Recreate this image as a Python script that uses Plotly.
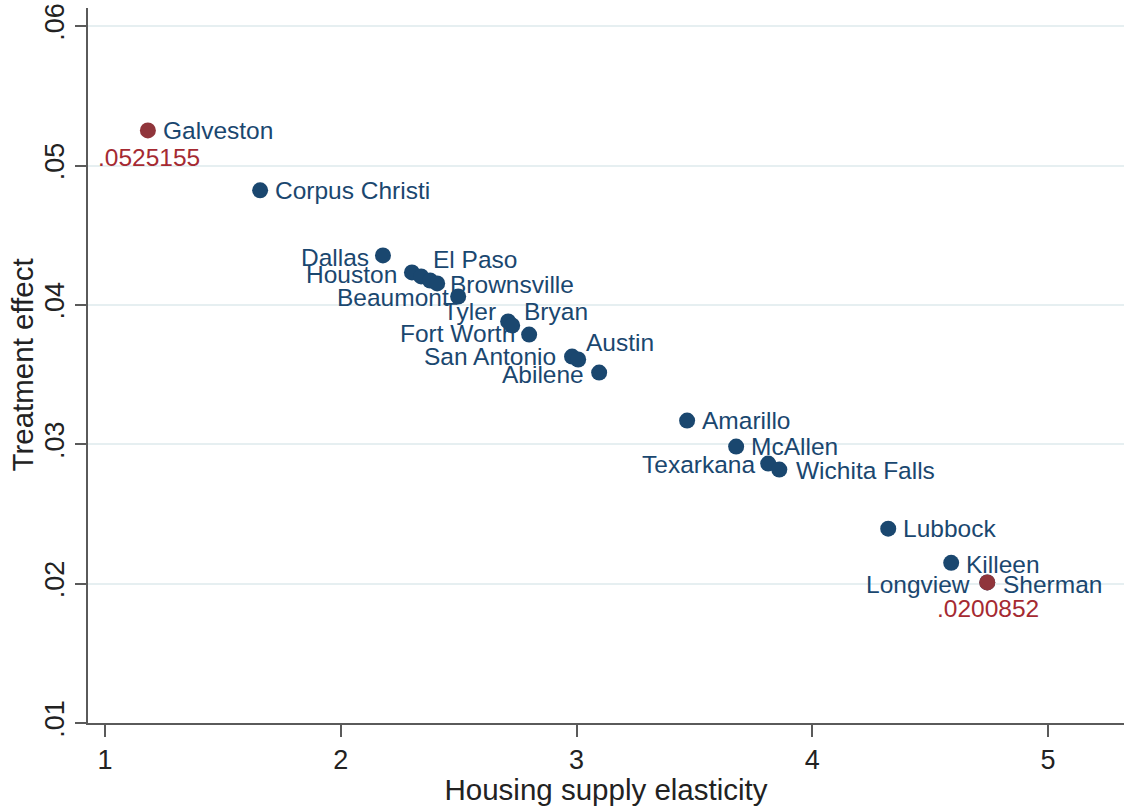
import plotly.graph_objects as go

# ---- data ----
cities = ["Galveston", "Corpus Christi", "Dallas", "Houston", "El Paso", "",
          "Brownsville", "Beaumont", "Tyler", "Bryan", "Fort Worth",
          "San Antonio", "Austin", "Abilene", "Amarillo", "McAllen",
          "Texarkana", "Wichita Falls", "Lubbock", "Killeen", "Sherman", "Longview"]
elasticity = [1.182, 1.658, 2.179, 2.302, 2.341, 2.379,
              2.409, 2.498, 2.710, 2.727, 2.799,
              2.981, 3.007, 3.096, 3.469, 3.677,
              3.813, 3.860, 4.322, 4.589, 4.742, 4.742]
effect = [0.0525155, 0.04822, 0.04355, 0.04233, 0.04204, 0.04175,
          0.04154, 0.04060, 0.03881, 0.03852, 0.03787,
          0.03629, 0.03608, 0.03514, 0.03170, 0.02983,
          0.02861, 0.02818, 0.02394, 0.02149, 0.0200852, 0.0200852]
x_ticks = [1, 2, 3, 4, 5]
y_ticks = [0.01, 0.02, 0.03, 0.04, 0.05, 0.06]
y_tick_text = [".01", ".02", ".03", ".04", ".05", ".06"]

# ---- styling ----
NAVY = "#1a476f"
MAROON = "#90353b"
VALRED = "#a52a32"
FONT = "Liberation Sans, Arial, sans-serif"
LBL = 24.5

# label placement: (anchor, xshift, yshift)
placement = {
    "Galveston": ("left", 13, 0),
    "Corpus Christi": ("left", 13, 0),
    "Dallas": ("right", -12, -2),
    "Houston": ("right", -13, -2),
    "El Paso": ("left", 10, 17),
    "Brownsville": ("left", 11, -1),
    "Beaumont": ("right", -7, -1),
    "Tyler": ("right", -10, 10),
    "Bryan": ("left", 10, 14),
    "Fort Worth": ("right", -12, 1),
    "San Antonio": ("right", -14, 0),
    "Austin": ("left", 6, 17),
    "Abilene": ("right", -13, -2),
    "Amarillo": ("left", 13, 0),
    "McAllen": ("left", 13, 0),
    "Texarkana": ("right", -11, -1),
    "Wichita Falls": ("left", 15, -1),
    "Lubbock": ("left", 13, 0),
    "Killeen": ("left", 13, -2),
    "Sherman": ("left", 14, -2),
    "Longview": ("right", -15, -2),
}

i_max = max(range(len(effect)), key=lambda i: effect[i])
i_min = min(range(len(effect)), key=lambda i: effect[i])
hi = {i_max, i_min}

fig = go.Figure()
fig.add_trace(go.Scatter(
    x=[elasticity[i] for i in range(len(cities)) if i not in hi],
    y=[effect[i] for i in range(len(cities)) if i not in hi],
    mode="markers",
    marker=dict(color=NAVY, size=16, line=dict(width=0)),
    showlegend=False, hoverinfo="skip"))
fig.add_trace(go.Scatter(
    x=[elasticity[i] for i in sorted(hi)],
    y=[effect[i] for i in sorted(hi)],
    mode="markers",
    marker=dict(color=MAROON, size=16, line=dict(width=0)),
    showlegend=False, hoverinfo="skip"))

anns = []
for name, xv, yv in zip(cities, elasticity, effect):
    if not name:
        continue
    anc, xs, ys = placement[name]
    anns.append(dict(x=xv, y=yv, xref="x", yref="y", text=name, showarrow=False,
                     xanchor=anc, yanchor="middle", xshift=xs, yshift=ys,
                     font=dict(family=FONT, size=LBL, color=NAVY)))
for i, ys in ((i_max, -27), (i_min, -26)):
    anns.append(dict(x=elasticity[i], y=effect[i], xref="x", yref="y",
                     text=("%.7f" % effect[i]).lstrip("0"), showarrow=False,
                     xanchor="center", yanchor="middle", xshift=1, yshift=ys,
                     font=dict(family=FONT, size=LBL, color=VALRED)))
# y-axis title as rotated text
anns.append(dict(x=0, y=0.5, xref="paper", yref="paper", text="Treatment effect",
                 showarrow=False, textangle=-90, xanchor="center", yanchor="middle",
                 xshift=-66, font=dict(family=FONT, size=29.5, color="#222222")))

fig.update_layout(
    width=1128, height=806,
    margin=dict(l=88, r=4, t=8, b=83),
    paper_bgcolor="white", plot_bgcolor="white",
    annotations=anns,
    font=dict(family=FONT, color="#222222"),
    xaxis=dict(
        range=[0.928, 5.322], tickvals=x_ticks, ticktext=[str(v) for v in x_ticks],
        showgrid=False, zeroline=False,
        showline=True, linecolor="#5a5a5a", linewidth=2,
        ticks="outside", ticklen=12, tickwidth=2, tickcolor="#5a5a5a",
        tickfont=dict(family=FONT, size=27, color="#222222"),
        ticklabeloverflow="allow",
        title=dict(text="Housing supply elasticity", standoff=6,
                   font=dict(family=FONT, size=29.5, color="#222222")),
        automargin=False),
    yaxis=dict(
        range=[0.01, 0.0613], tickvals=y_ticks, ticktext=y_tick_text,
        tickangle=-90,
        showgrid=True, gridcolor="#e6eff1", gridwidth=1.5, zeroline=False,
        showline=True, linecolor="#5a5a5a", linewidth=2,
        ticks="outside", ticklen=11, tickwidth=2, tickcolor="#5a5a5a",
        tickfont=dict(family=FONT, size=27, color="#222222"),
        ticklabeloverflow="allow",
        automargin=False),
)

fig.write_html("out.html", config={"displayModeBar": False},
               post_script="document.body.style.margin='0';document.body.style.overflow='hidden';")
